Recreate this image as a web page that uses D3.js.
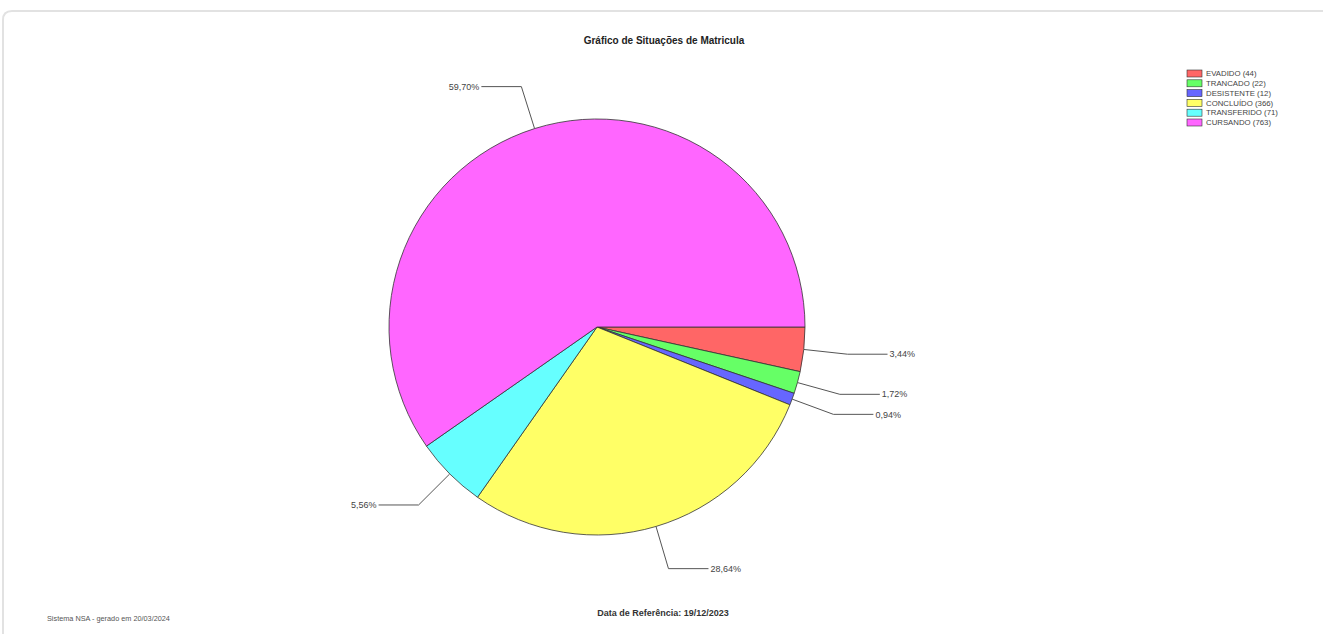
<!DOCTYPE html>
<html><head><meta charset="utf-8">
<script src="https://cdn.jsdelivr.net/npm/d3@7"></script>
<style>body{margin:0;background:#fff;} svg{display:block;font-family:Arial,"Liberation Sans",sans-serif;}</style>
</head><body>
<svg id="c" width="1323" height="634"></svg>
<script>
const categories = ["EVADIDO", "TRANCADO", "DESISTENTE", "CONCLUÍDO", "TRANSFERIDO", "CURSANDO"];
const counts = [44, 22, 12, 366, 71, 763];
const percentLabels = ["3,44%", "1,72%", "0,94%", "28,64%", "5,56%", "59,70%"];
const colors = ["#ff6666", "#66ff66", "#6666ff", "#ffff66", "#66ffff", "#ff66ff"];
const title = "Gráfico de Situações de Matricula";
const refDate = "Data de Referência: 19/12/2023";
const footer = "Sistema NSA - gerado em 20/03/2024";

const svg = d3.select("#c");
// card frame
svg.append("path")
  .attr("d", "M3,634 L3,20 Q3,11 12,11 L1330,11")
  .attr("fill", "none").attr("stroke", "#e2e2e2").attr("stroke-width", 2);

const cx = 597, cy = 327, r = 208;
const data = categories.map((c, i) => ({cat: c, v: counts[i], lab: percentLabels[i], col: colors[i]}));
// angles clockwise from 3 o'clock; d3 pie measures from 12 o'clock
const pie = d3.pie().value(d => d.v).sort(null).startAngle(Math.PI / 2).endAngle(Math.PI / 2 + 2 * Math.PI);
const arcs = pie(data);
const arc = d3.arc().innerRadius(0).outerRadius(r);
const g = svg.append("g").attr("transform", `translate(${cx},${cy})`);
g.selectAll("path.s").data(arcs).enter().append("path")
  .attr("d", arc).attr("fill", d => d.data.col)
  .attr("stroke", "#333").attr("stroke-width", 0.8).attr("stroke-linejoin", "round");

// leader lines and labels
arcs.forEach(a => {
  const m = (a.startAngle + a.endAngle) / 2;
  const px = (rr) => rr * Math.sin(m), py = (rr) => -rr * Math.cos(m);
  const x0 = px(r), y0 = py(r), x1 = px(252), y1 = py(252);
  const right = x1 >= 0;
  const x2 = x1 + (right ? 40 : -40);
  g.append("polyline").attr("points", `${x0},${y0} ${x1},${y1} ${x2},${y1}`)
    .attr("fill", "none").attr("stroke", "#555").attr("stroke-width", 1);
  g.append("text").attr("x", x2 + (right ? 2 : -2)).attr("y", y1)
    .attr("dy", "0.35em").attr("text-anchor", right ? "start" : "end")
    .attr("font-size", 9).attr("fill", "#444").text(a.data.lab);
});

svg.append("text").attr("x", 664).attr("y", 44).attr("text-anchor", "middle")
  .attr("font-size", 10).attr("font-weight", "bold").attr("fill", "#222").text(title);
svg.append("text").attr("x", 663).attr("y", 616).attr("text-anchor", "middle")
  .attr("font-size", 9).attr("font-weight", "bold").attr("fill", "#333").text(refDate);
svg.append("text").attr("x", 47).attr("y", 621)
  .attr("font-size", 7.3).attr("fill", "#555").text(footer);

// legend
const lg = svg.append("g").attr("transform", "translate(1187,70)");
data.forEach((d, i) => {
  const y = i * 9.8;
  lg.append("rect").attr("x", 0).attr("y", y).attr("width", 15).attr("height", 7)
    .attr("fill", d.col).attr("stroke", "#333").attr("stroke-width", 0.6);
  lg.append("text").attr("x", 19).attr("y", y + 3.5).attr("dy", "0.35em")
    .attr("font-size", 7.8).attr("fill", "#444").text(`${d.cat} (${d.v})`);
});
</script>
</body></html>
